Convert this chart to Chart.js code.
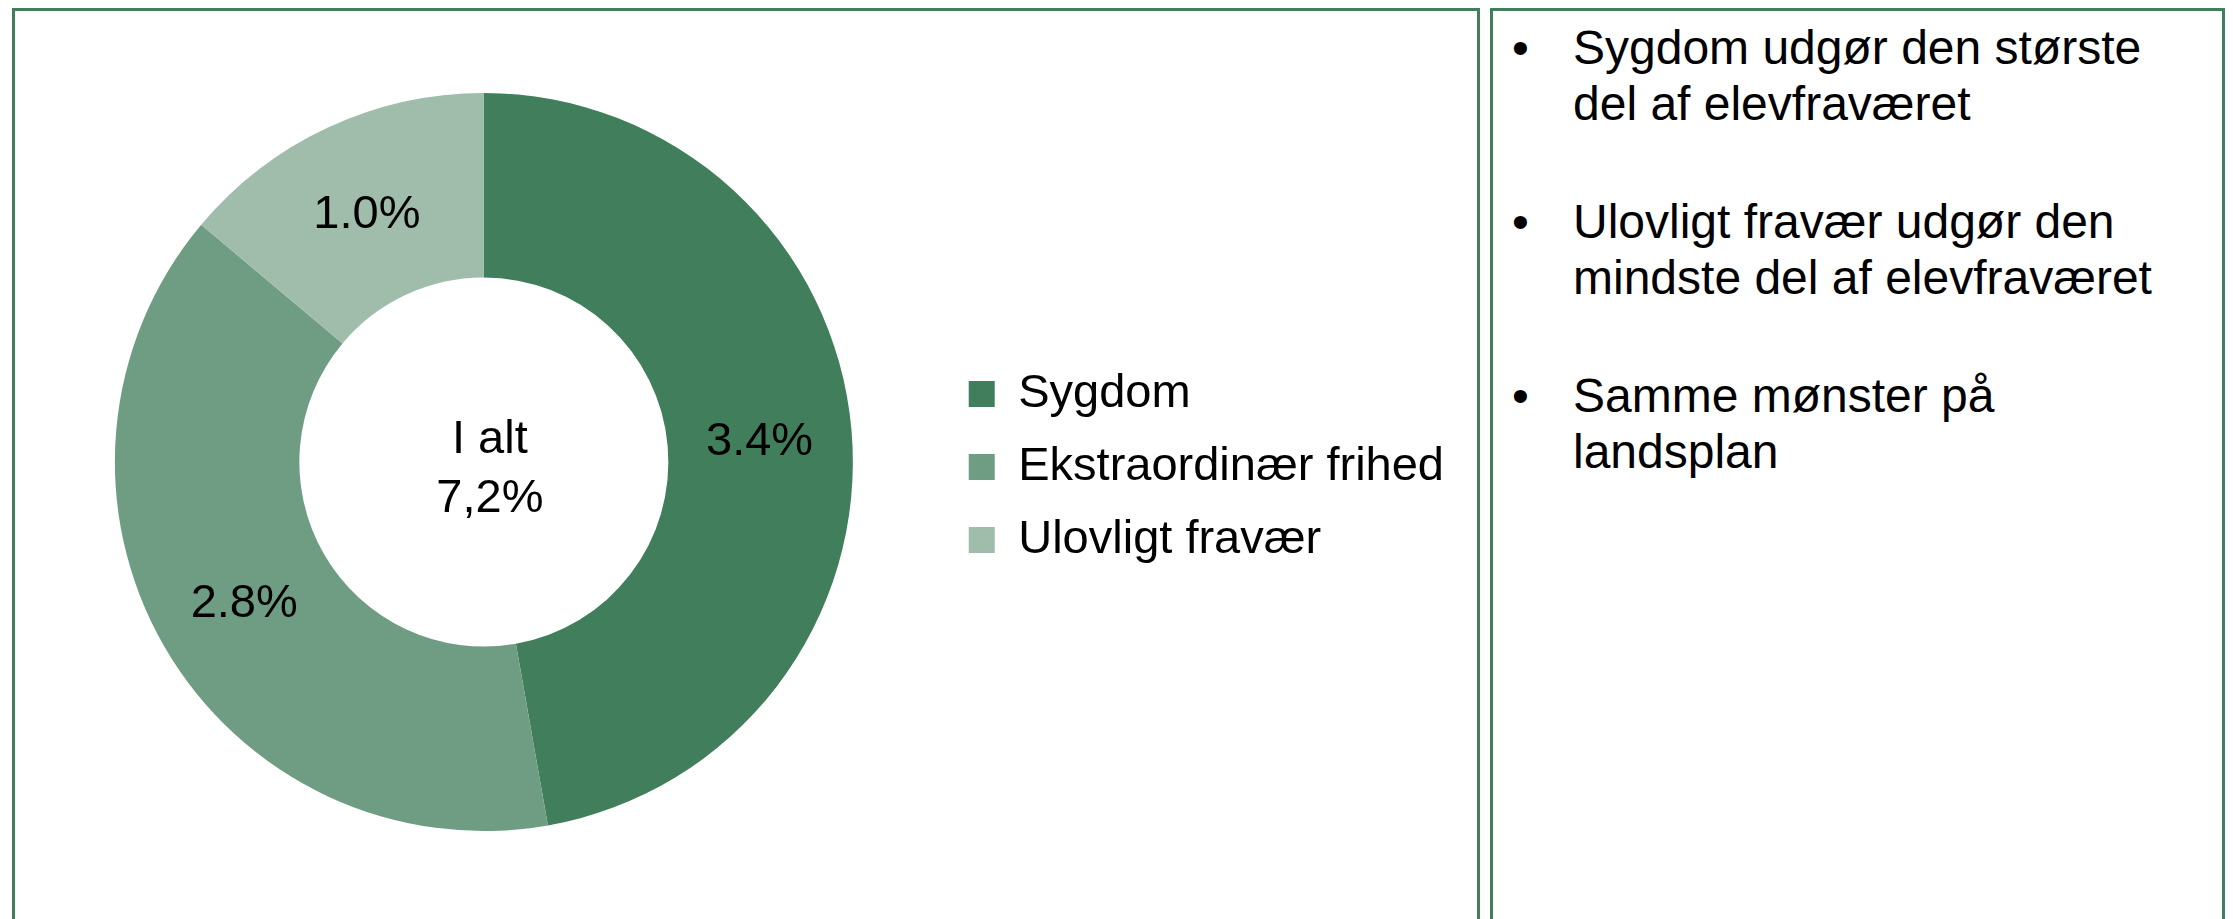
<!DOCTYPE html>
<html>

<head>
  <meta charset="utf-8">
  <title>Elevfravær</title>
</head>

<body>

<div id="leftBox" class="box"></div>
<div id="rightBox" class="box"></div>

<canvas id="myCanvas" width="1429" height="738"></canvas>

<div id="notes">
  <div class="note"><span class="dot">&bull;</span>Sygdom udgør den største<br>del af elevfraværet</div>
  <div class="note"><span class="dot">&bull;</span>Ulovligt fravær udgør den<br>mindste del af elevfraværet</div>
  <div class="note"><span class="dot">&bull;</span>Samme mønster på<br>landsplan</div>
</div>

<!--------------------------Style block------------------------------------------------->
<style>
  body{margin: 0; width: 2233px; height: 919px; overflow: hidden; background: #fff;
       font-family: "Liberation Sans", Arial, sans-serif;}
  .box{position: absolute; top: 8px; height: 1000px; border: 3px solid #417E5B; box-sizing: border-box;}
  #leftBox{left: 12px; width: 1468px;}
  #rightBox{left: 1490px; width: 735px;}
  #myCanvas{position: absolute; left: 25px; top: 93px;}
  #notes{position: absolute; left: 1573px; top: 20px; font-size: 48px; line-height: 56px; color: #000;}
  .note{position: relative; margin-bottom: 62px; white-space: nowrap;}
  .dot{position: absolute; left: -61px;}
</style>
<!-----------------------End of style block------------------------------------------------>

<script src="https://cdn.jsdelivr.net/npm/chart.js@4/dist/chart.umd.min.js"></script>
<script>
  // ---------------------------Data------------------------------------------------
  var categories = ['Sygdom', 'Ekstraordinær frihed', 'Ulovligt fravær'];
  var values = [3.4, 2.8, 1.0];
  var valueLabels = ['3.4%', '2.8%', '1.0%'];
  var totalLabel = ['I alt', '7,2%'];
  var colors = ['#417E5B', '#6F9D84', '#A0BDAB'];

  var fontFamily = '"Liberation Sans", Arial, sans-serif';

  // value labels in the middle of each ring piece, plus the total in the hole
  var ringText = {
    id: 'ringText',
    afterLayout: function(chart) {
      // legend sits a few px lower than chart.js centres it
      chart.legend.top += 5;
      chart.legend.bottom += 5;
    },
    afterDatasetsDraw: function(chart) {
      var ctx = chart.ctx;
      var arcs = chart.getDatasetMeta(0).data;
      ctx.save();
      ctx.fillStyle = '#000';
      ctx.font = '47px ' + fontFamily;
      ctx.textAlign = 'center';
      ctx.textBaseline = 'alphabetic';
      arcs.forEach(function(arc, i) {
        var p = arc.tooltipPosition();
        ctx.fillText(valueLabels[i], p.x, p.y + 17);
      });
      var cx = arcs[0].x, cy = arcs[0].y;
      ctx.fillText(totalLabel[0], cx + 6, cy - 9);
      ctx.fillText(totalLabel[1], cx + 6, cy + 50);
      ctx.restore();
    }
  };

  var canv = document.getElementById('myCanvas');
  var chart = new Chart(canv, {
    type: 'doughnut',
    data: {
      labels: categories,
      datasets: [{
        data: values,
        backgroundColor: colors,
        borderWidth: 0
      }]
    },
    options: {
      responsive: false,
      animation: false,
      devicePixelRatio: 1,
      cutout: '50%',
      layout: {padding: 0},
      plugins: {
        tooltip: {enabled: false},
        legend: {
          position: 'right',
          labels: {
            boxWidth: 26,
            boxHeight: 26,
            padding: 26,
            color: '#000',
            font: {size: 47, family: fontFamily}
          }
        }
      }
    },
    plugins: [ringText]
  });
</script>

</body>

</html>
